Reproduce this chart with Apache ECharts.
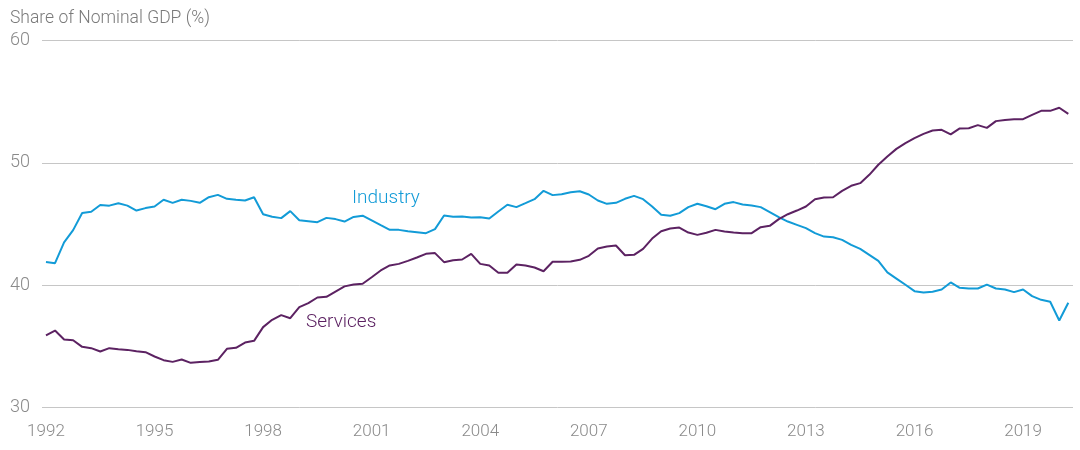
<!DOCTYPE html>
<html>
<head>
<meta charset="utf-8">
<script src="https://cdn.jsdelivr.net/npm/echarts@6/dist/echarts.min.js"></script>
<style>
html,body{margin:0;padding:0;background:#fff;}
#chart{width:1080px;height:450px;}
</style>
</head>
<body>
<div id="chart"></div>
<script>
const startYear = 1992;
const yearTicks = [1992, 1995, 1998, 2001, 2004, 2007, 2010, 2013, 2016, 2019];
const yTicks = [30, 40, 50, 60];
const industry = [
  41.9, 41.8, 43.5, 44.5, 45.9, 46.0, 46.55, 46.5, 46.7, 46.5, 46.1, 46.3,
  46.43, 46.98, 46.73, 46.98, 46.89, 46.73, 47.19, 47.38, 47.06, 46.98, 46.92, 47.19,
  45.8, 45.59, 45.48, 46.05, 45.31, 45.23, 45.15, 45.5, 45.4, 45.2, 45.58, 45.68,
  45.29, 44.9, 44.52, 44.52, 44.41, 44.33, 44.25, 44.58, 45.69, 45.59, 45.61, 45.53,
  45.56, 45.45, 46.02, 46.57, 46.38, 46.7, 47.03, 47.71, 47.36, 47.44, 47.6, 47.68,
  47.41, 46.92, 46.65, 46.73, 47.06, 47.3, 47.03, 46.43, 45.75, 45.67, 45.89, 46.38,
  46.66, 46.45, 46.21, 46.65, 46.79, 46.59, 46.51, 46.38, 45.97, 45.56, 45.2, 44.93,
  44.66, 44.25, 43.97, 43.92, 43.7, 43.3, 42.97, 42.48, 41.99, 41.04, 40.54, 40.03,
  39.51, 39.4, 39.46, 39.65, 40.22, 39.78, 39.73, 39.73, 40.05, 39.73, 39.65, 39.43,
  39.65, 39.1, 38.8, 38.64, 37.11, 38.56
];
const services = [
  35.89, 36.29, 35.56, 35.5, 34.96, 34.85, 34.58, 34.85, 34.77, 34.71, 34.6, 34.52,
  34.17, 33.87, 33.73, 33.92, 33.65, 33.71, 33.76, 33.9, 34.8, 34.88, 35.31, 35.45,
  36.57, 37.17, 37.55, 37.3, 38.2, 38.53, 38.99, 39.05, 39.48, 39.9, 40.06, 40.12,
  40.65, 41.2, 41.61, 41.74, 41.99, 42.26, 42.56, 42.62, 41.88, 42.04, 42.1, 42.56,
  41.74, 41.61, 41.01, 41.01, 41.69, 41.61, 41.44, 41.14, 41.91, 41.91, 41.93, 42.07,
  42.4, 43.0, 43.16, 43.24, 42.45, 42.48, 42.97, 43.81, 44.41, 44.63, 44.71, 44.3,
  44.11, 44.28, 44.52, 44.39, 44.3, 44.25, 44.25, 44.74, 44.85, 45.4, 45.8, 46.1,
  46.43, 47.03, 47.17, 47.19, 47.71, 48.12, 48.34, 49.02, 49.84, 50.52, 51.14, 51.61,
  52.02, 52.37, 52.64, 52.7, 52.32, 52.81, 52.83, 53.08, 52.86, 53.41, 53.51, 53.57,
  53.57, 53.92, 54.25, 54.25, 54.5, 54.0
];

const toPairs = arr => arr.map((v, i) => [startYear + i / 4, v]);
const blue = '#129bd7';
const purple = '#5c2262';
const font = 'Roboto, "Liberation Sans", sans-serif';

const chart = echarts.init(document.getElementById('chart'), null, {renderer: 'canvas'});
chart.setOption({
  animation: false,
  backgroundColor: '#ffffff',
  title: {
    text: 'Share of Nominal GDP (%)',
    left: 5, top: 5,
    textStyle: {fontFamily: font, fontSize: 17.5, fontWeight: 300, color: '#7a7a7a'}
  },
  grid: {left: 42, right: 7, top: 40.5, bottom: 42.5, containLabel: false},
  xAxis: {
    type: 'value',
    min: 1991.89,
    max: 2020.38,
    axisLine: {show: false},
    axisTick: {show: false},
    splitLine: {show: false},
    axisLabel: {
      customValues: yearTicks,
      formatter: v => String(Math.round(v)),
      color: '#8a8a8a', fontFamily: font, fontSize: 17, fontWeight: 300, margin: 16
    }
  },
  yAxis: {
    type: 'value',
    min: 30, max: 60, interval: 10,
    axisLine: {show: false},
    axisTick: {show: false},
    splitLine: {lineStyle: {color: '#c6c6c6', width: 1}},
    axisLabel: {
      customValues: yTicks,
      color: '#8a8a8a', fontFamily: font, fontSize: 18, fontWeight: 300, margin: 12
    }
  },
  graphic: [
    {type: 'text', left: 352, top: 189, style: {text: 'Industry', fill: blue, font: '300 19px ' + font}},
    {type: 'text', left: 306, top: 313, style: {text: 'Services', fill: purple, font: '300 19px ' + font}}
  ],
  series: [
    {name: 'Industry', type: 'line', data: toPairs(industry), showSymbol: false, lineStyle: {color: blue, width: 2}, itemStyle: {color: blue}},
    {name: 'Services', type: 'line', data: toPairs(services), showSymbol: false, lineStyle: {color: purple, width: 2}, itemStyle: {color: purple}}
  ]
});
</script>
</body>
</html>
